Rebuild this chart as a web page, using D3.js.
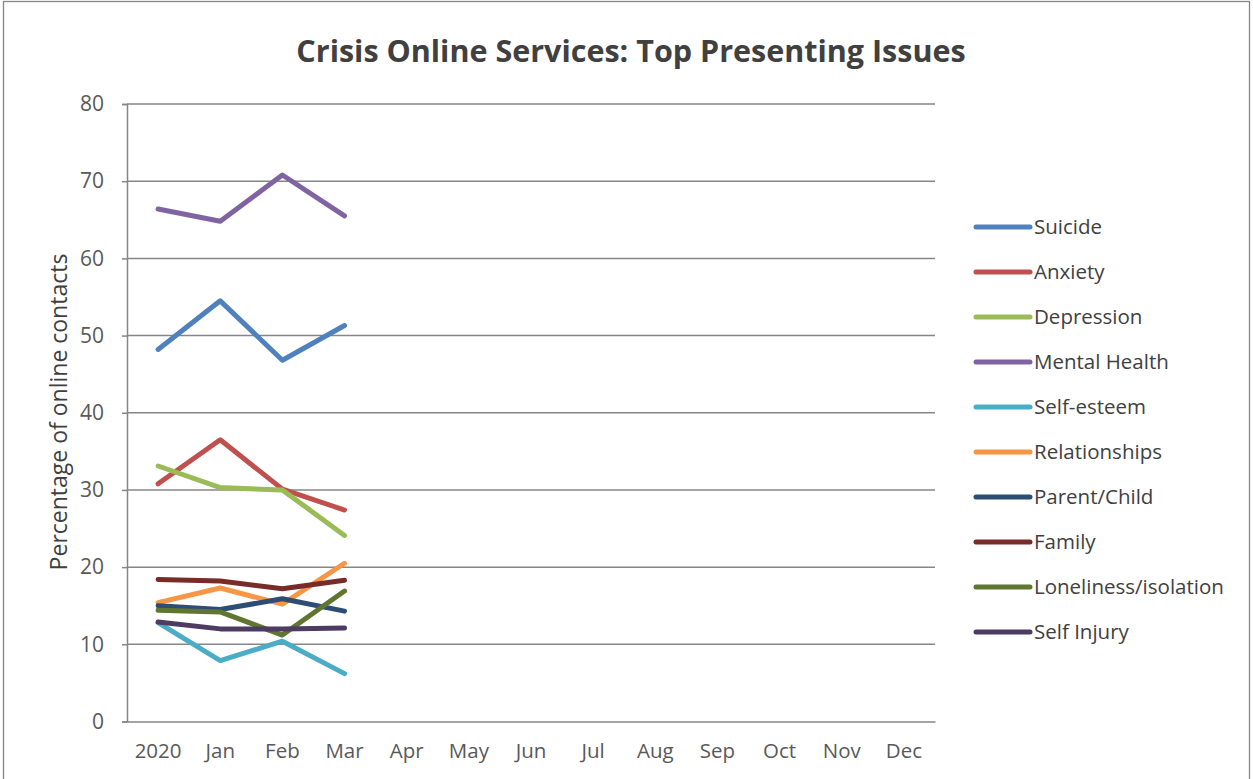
<!DOCTYPE html>
<html><head><meta charset="utf-8">
<script src="https://cdn.jsdelivr.net/npm/d3@7"></script>
<style>body{margin:0;background:#fff;} svg{display:block;}</style>
</head><body>
<script>
const categories = ["2020","Jan","Feb","Mar","Apr","May","Jun","Jul","Aug","Sep","Oct","Nov","Dec"];
const yTicks = [0,10,20,30,40,50,60,70,80];
const seriesNames = ["Suicide","Anxiety","Depression","Mental Health","Self-esteem","Relationships","Parent/Child","Family","Loneliness/isolation","Self Injury"];
const seriesColors = ["#4F81BD","#C0504D","#9BBB59","#8064A2","#4BACC6","#F79646","#2C4D75","#772C2A","#5F7530","#4D3B62"];
const suicide = [48.2, 54.5, 46.8, 51.3];
const anxiety = [30.8, 36.5, 30.1, 27.4];
const depression = [33.1, 30.3, 30.0, 24.1];
const mentalHealth = [66.4, 64.8, 70.8, 65.5];
const selfEsteem = [12.8, 7.9, 10.4, 6.2];
const relationships = [15.4, 17.3, 15.2, 20.5];
const parentChild = [15.0, 14.5, 15.9, 14.3];
const family = [18.4, 18.2, 17.2, 18.3];
const loneliness = [14.4, 14.2, 11.2, 16.9];
const selfInjury = [12.9, 12.0, 12.0, 12.1];
const seriesValues = [suicide, anxiety, depression, mentalHealth, selfEsteem, relationships, parentChild, family, loneliness, selfInjury];

(function () {
const W = 1253, H = 779;
const svg = d3.select("body").append("svg").attr("width", W).attr("height", H);
const font = "'Open Sans', sans-serif";

svg.append("rect").attr("x", 3.5).attr("y", 1.5).attr("width", 1246).attr("height", 800)
  .attr("fill", "#fff").attr("stroke", "#868686").attr("stroke-width", 1.3);

const pL = 127, pR = 935, pT = 104, pB = 721.5;
const x = d3.scaleBand().domain(categories).range([pL, pR]);
const y = d3.scaleLinear().domain([0, 80]).range([pB, pT]);

svg.append("g").selectAll("line").data(yTicks.filter(d => d > 0)).join("line")
  .attr("x1", pL).attr("x2", pR).attr("y1", d => y(d)).attr("y2", d => y(d))
  .attr("stroke", "#868686").attr("stroke-width", 1.5);

const yAxis = svg.append("g").attr("transform", `translate(${pL},0)`)
  .call(d3.axisLeft(y).tickValues(yTicks).tickSize(5).tickPadding(18));
yAxis.select(".domain").attr("stroke", "#868686").attr("stroke-width", 1.5);
yAxis.selectAll(".tick line").attr("stroke", "#868686").attr("stroke-width", 1.5);
yAxis.selectAll("text").attr("fill", "#595959").style("font-family", font).style("font-size", "21px");

const xAxis = svg.append("g").attr("transform", `translate(0,${pB})`)
  .call(d3.axisBottom(x).tickSize(0).tickPadding(22));
xAxis.select(".domain").attr("stroke", "#868686").attr("stroke-width", 1.5);
xAxis.selectAll("text").attr("fill", "#595959").style("font-family", font).style("font-size", "20.5px");

svg.append("text").attr("x", 631).attr("y", 62).attr("text-anchor", "middle")
  .attr("fill", "#404040").style("font-family", font).style("font-weight", "bold").style("font-size", "30.5px")
  .text("Crisis Online Services: Top Presenting Issues");

svg.append("text").attr("transform", `translate(67,412) rotate(-90)`).attr("text-anchor", "middle")
  .attr("fill", "#404040").style("font-family", font).style("font-size", "23px")
  .text("Percentage of online contacts");

const line = d3.line().x((d, i) => x(categories[i]) + x.bandwidth() / 2).y(d => y(d));
svg.append("g").selectAll("path").data(seriesValues).join("path")
  .attr("d", d => line(d)).attr("fill", "none")
  .attr("stroke", (d, i) => seriesColors[i]).attr("stroke-width", 5)
  .attr("stroke-linejoin", "round").attr("stroke-linecap", "round");

const lg = svg.append("g").selectAll("g").data(seriesNames).join("g")
  .attr("transform", (d, i) => `translate(976,${227 + i * 45})`);
lg.append("line").attr("x1", 0).attr("x2", 54).attr("y1", 0).attr("y2", 0)
  .attr("stroke", (d, i) => seriesColors[i]).attr("stroke-width", 5).attr("stroke-linecap", "round");
lg.append("text").attr("x", 58).attr("y", 0).attr("dy", "0.35em")
  .attr("fill", "#404040").style("font-family", font).style("font-size", "20.5px").text(d => d);
})();
</script>
</body></html>
